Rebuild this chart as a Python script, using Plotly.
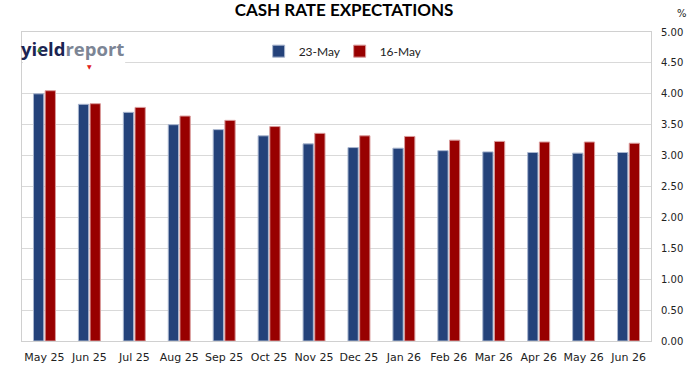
import plotly.graph_objects as go

categories = ["May 25", "Jun 25", "Jul 25", "Aug 25", "Sep 25", "Oct 25", "Nov 25",
              "Dec 25", "Jan 26", "Feb 26", "Mar 26", "Apr 26", "May 26", "Jun 26"]
may23 = [4.00, 3.83, 3.70, 3.50, 3.42, 3.32, 3.19, 3.13, 3.12, 3.08, 3.06, 3.05, 3.04, 3.05]
may16 = [4.05, 3.84, 3.78, 3.64, 3.57, 3.47, 3.36, 3.32, 3.31, 3.25, 3.23, 3.22, 3.22, 3.20]
y_ticks = [0, 0.5, 1, 1.5, 2, 2.5, 3, 3.5, 4, 4.5, 5]

blue = "#24427A"
red = "#980000"

fig = go.Figure()
fig.add_trace(go.Bar(x=categories, y=may23, name="23-May", marker_color=blue,
                     marker_line=dict(color="#A9B6CF", width=1)))
fig.add_trace(go.Bar(x=categories, y=may16, name="16-May", marker_color=red,
                     marker_line=dict(color="#D99A9A", width=1)))

fig.update_layout(
    width=688, height=368,
    margin=dict(l=22, r=37, t=32, b=27),
    paper_bgcolor="white", plot_bgcolor="white",
    barmode="group", bargap=0.48, bargroupgap=0.12,
    title=dict(text="<b>CASH RATE EXPECTATIONS</b>", x=0.5, xanchor="center",
               y=0.972, yanchor="middle",
               font=dict(family="Lato", size=17, color="black")),
    legend=dict(orientation="h", x=0.505, xanchor="center", y=0.985, yanchor="top",
                font=dict(family="Lato", size=12, color="#222"),
                itemwidth=30, entrywidth=36, entrywidthmode="pixels",
                bgcolor="rgba(0,0,0,0)", traceorder="normal"),
    font=dict(family="DejaVu Sans", size=10, color="#333"),
    xaxis=dict(showgrid=False, showline=True, linecolor="#D0D0D0", mirror=True,
               ticks="outside", ticklen=6, tickcolor="rgba(0,0,0,0)", automargin=False,
               tickfont=dict(family="DejaVu Sans", size=11, color="#222")),
    yaxis=dict(side="right", range=[0, 5], tickvals=y_ticks, tickformat=".2f",
               showgrid=True, gridcolor="#D9D9D9", showline=True, linecolor="#D0D0D0",
               mirror=True, ticks="outside", ticklen=7, tickcolor="rgba(0,0,0,0)",
               zeroline=False, automargin=False,
               tickfont=dict(family="DejaVu Sans", size=10, color="#222")),
)

fig.add_annotation(xref="paper", yref="paper", x=1.049, y=1.035, text="%",
                   showarrow=False, xanchor="center", yanchor="bottom",
                   font=dict(family="DejaVu Sans", size=10, color="#222"))

# logo
fig.add_shape(type="rect", xref="paper", yref="paper", x0=0.0015, x1=0.164, y0=0.897, y1=0.997,
              fillcolor="white", line_width=0, layer="above")
fig.add_annotation(xref="paper", yref="paper", x=-0.004, y=0.945, xanchor="left", yanchor="middle",
                   text="<b><span style='color:#1B2452'>yield</span><span style='color:#7C8595'>report</span></b>",
                   showarrow=False, font=dict(family="Open Sans", size=18.5))
fig.add_annotation(xref="paper", yref="paper", x=0.021, y=0.966, text="▲", showarrow=False,
                   font=dict(size=6, color="#2E8B3E"))
fig.add_annotation(xref="paper", yref="paper", x=0.1, y=0.905, text="▼", showarrow=False,
                   font=dict(size=6, color="#E02020"))

fig.write_html("out.html", post_script="document.body.style.margin='0';",
               config={"displayModeBar": False})
